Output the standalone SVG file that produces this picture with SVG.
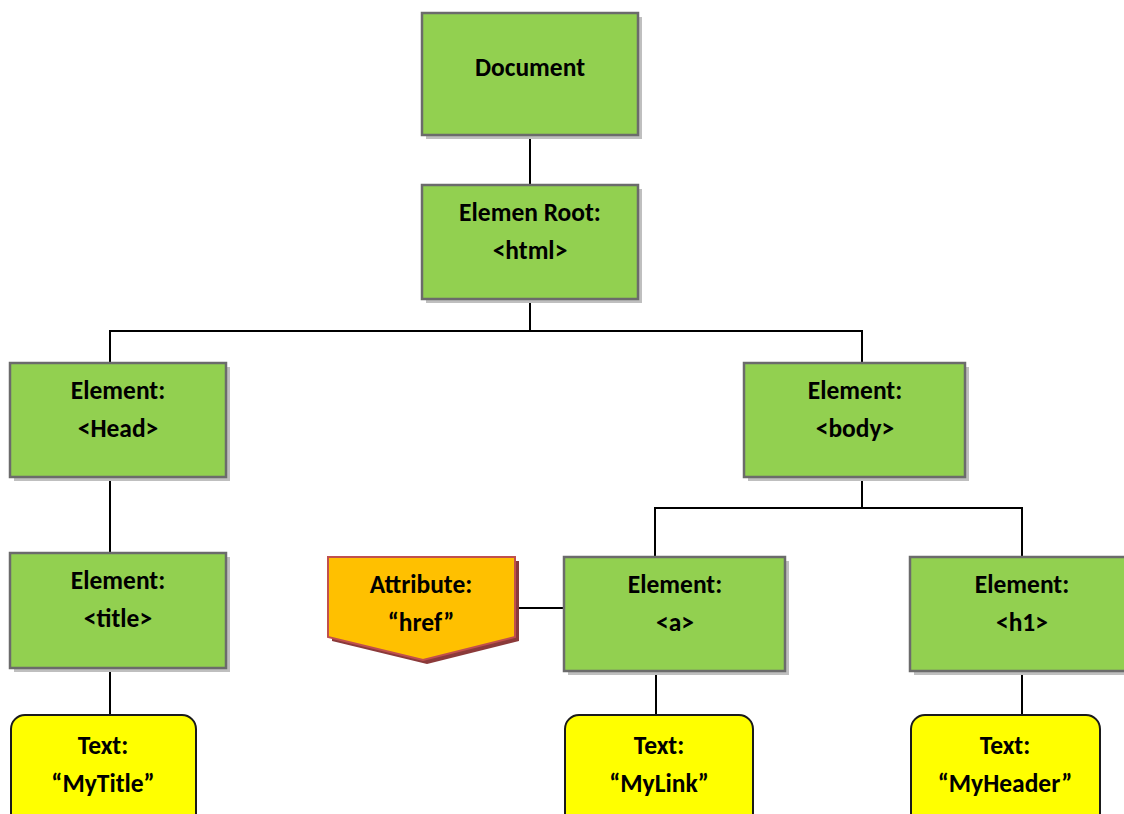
<svg xmlns="http://www.w3.org/2000/svg" width="1124" height="814" viewBox="0 0 1124 814">
<defs>
<style>
.g{fill:#92d050;stroke:#6b6b6b;stroke-width:2.5}
.sh{fill:#bfbfbf}
.y{fill:#ffff00;stroke:#1a1a1a;stroke-width:2}
.t{font-family:Carlito,Lato,"Liberation Sans",sans-serif;font-weight:bold;font-size:25.5px;fill:#000;text-anchor:middle}
.c{fill:none;stroke:#000;stroke-width:2}
</style>
</defs>
<rect width="1124" height="814" fill="#fff"/>
<g id="connectors">
<path class="c" d="M530 135V185"/>
<path class="c" d="M530 299V331M110 363V331H862V363"/>
<path class="c" d="M110 477V553"/>
<path class="c" d="M862 477V508M655 557V508H1022V557"/>
<path class="c" d="M110 668V715"/>
<path class="c" d="M656 671V715"/>
<path class="c" d="M1022 671V715"/>
<path class="c" d="M515 608H564"/>
</g>
<g id="document">
<rect class="sh" x="426" y="17" width="216" height="122"/>
<rect class="g" x="422" y="13" width="216" height="122"/>
<text class="t" x="530" y="76">Document</text>
</g>
<g id="root">
<rect class="sh" x="426" y="189" width="216" height="114"/>
<rect class="g" x="422" y="185" width="216" height="114"/>
<text class="t" x="530" y="221">Elemen Root:</text>
<text class="t" x="530" y="259">&lt;html&gt;</text>
</g>
<g id="head">
<rect class="sh" x="14" y="367" width="216" height="114"/>
<rect class="g" x="10" y="363" width="216" height="114"/>
<text class="t" x="118" y="399">Element:</text>
<text class="t" x="118" y="437">&lt;Head&gt;</text>
</g>
<g id="body">
<rect class="sh" x="748" y="367" width="221" height="114"/>
<rect class="g" x="744" y="363" width="221" height="114"/>
<text class="t" x="855" y="399">Element:</text>
<text class="t" x="855" y="437">&lt;body&gt;</text>
</g>
<g id="title">
<rect class="sh" x="14" y="557" width="216" height="115"/>
<rect class="g" x="10" y="553" width="216" height="115"/>
<text class="t" x="118" y="589">Element:</text>
<text class="t" x="118" y="627">&lt;title&gt;</text>
</g>
<g id="attribute">
<path d="M332 561H519V641L427 664L332 641Z" fill="#8b3a3a"/>
<path d="M328 557H515V637L423 660L328 637Z" fill="#ffc000" stroke="#c0504d" stroke-width="2"/>
<text class="t" x="421" y="593">Attribute:</text>
<text class="t" x="421" y="631">“href”</text>
</g>
<g id="a">
<rect class="sh" x="568" y="561" width="221" height="114"/>
<rect class="g" x="564" y="557" width="221" height="114"/>
<text class="t" x="675" y="593">Element:</text>
<text class="t" x="675" y="631">&lt;a&gt;</text>
</g>
<g id="h1">
<rect class="sh" x="914" y="561" width="220" height="114"/>
<rect class="g" x="910" y="557" width="220" height="114"/>
<text class="t" x="1022" y="593">Element:</text>
<text class="t" x="1022" y="631">&lt;h1&gt;</text>
</g>
<g id="text-mytitle">
<rect class="y" x="11" y="715" width="185" height="120" rx="14"/>
<text class="t" x="103" y="754">Text:</text>
<text class="t" x="103" y="792">“MyTitle”</text>
</g>
<g id="text-mylink">
<rect class="y" x="565" y="715" width="188" height="120" rx="14"/>
<text class="t" x="659" y="754">Text:</text>
<text class="t" x="659" y="792">“MyLink”</text>
</g>
<g id="text-myheader">
<rect class="y" x="911" y="715" width="189" height="120" rx="14"/>
<text class="t" x="1005" y="754">Text:</text>
<text class="t" x="1005" y="792">“MyHeader”</text>
</g>
</svg>
